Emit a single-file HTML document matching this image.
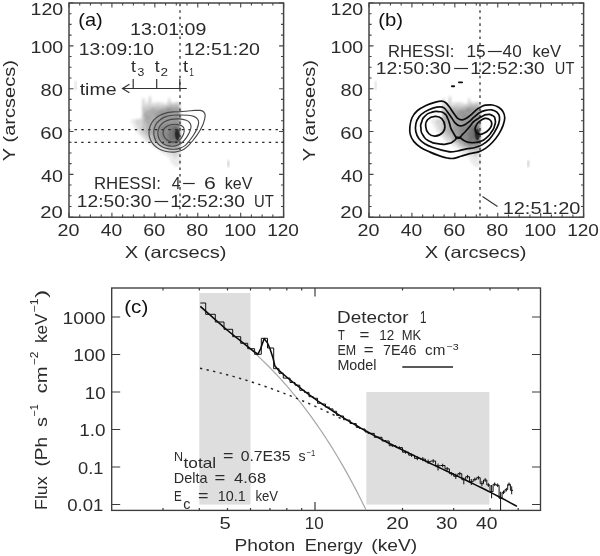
<!DOCTYPE html>
<html><head><meta charset="utf-8"><title>RHESSI figure</title>
<style>html,body{margin:0;padding:0;background:#fff;}svg{display:block;opacity:0.999;}text{font-family:'Liberation Sans', sans-serif;font-kerning:none;}</style>
</head><body>
<svg width="600" height="556" viewBox="0 0 600 556">
<defs>
<filter id="blur0" x="-10%" y="-10%" width="120%" height="120%"><feGaussianBlur stdDeviation="0.8"/></filter>
<filter id="blurc" x="-60%" y="-30%" width="220%" height="160%"><feGaussianBlur stdDeviation="0.7"/></filter>
<filter id="blur1" x="-50%" y="-50%" width="200%" height="200%"><feGaussianBlur stdDeviation="1.2"/></filter>
<filter id="blur2" x="-50%" y="-50%" width="200%" height="200%"><feGaussianBlur stdDeviation="2.4"/></filter>
<clipPath id="clip0"><rect x="69" y="3" width="111.3" height="214"/></clipPath>
<clipPath id="clip300"><rect x="369" y="3" width="111.3" height="214"/></clipPath>
<g id="blob"><g filter="url(#blur0)">
<rect x="148.55" y="95.45" width="2.65" height="2.65" fill="#eaeaea"/>
<rect x="142.10" y="97.60" width="2.65" height="2.65" fill="#eaeaea"/>
<rect x="148.55" y="97.60" width="2.65" height="2.65" fill="#d4d4d4"/>
<rect x="167.90" y="97.60" width="2.65" height="2.65" fill="#e9e9e9"/>
<rect x="142.10" y="99.75" width="2.65" height="2.65" fill="#d5d5d5"/>
<rect x="148.55" y="99.75" width="2.65" height="2.65" fill="#d3d3d3"/>
<rect x="167.90" y="99.75" width="2.65" height="2.65" fill="#dadada"/>
<rect x="142.10" y="101.90" width="2.65" height="2.65" fill="#d7d7d7"/>
<rect x="144.25" y="101.90" width="2.65" height="2.65" fill="#e9e9e9"/>
<rect x="146.40" y="101.90" width="2.65" height="2.65" fill="#eaeaea"/>
<rect x="148.55" y="101.90" width="2.65" height="2.65" fill="#d3d3d3"/>
<rect x="150.70" y="101.90" width="2.65" height="2.65" fill="#ececec"/>
<rect x="152.85" y="101.90" width="2.65" height="2.65" fill="#ebebeb"/>
<rect x="155.00" y="101.90" width="2.65" height="2.65" fill="#ececec"/>
<rect x="157.15" y="101.90" width="2.65" height="2.65" fill="#d6d6d6"/>
<rect x="159.30" y="101.90" width="2.65" height="2.65" fill="#eaeaea"/>
<rect x="161.45" y="101.90" width="2.65" height="2.65" fill="#ececec"/>
<rect x="165.75" y="101.90" width="2.65" height="2.65" fill="#ececec"/>
<rect x="167.90" y="101.90" width="2.65" height="2.65" fill="#d8d8d8"/>
<rect x="170.05" y="101.90" width="2.65" height="2.65" fill="#d3d3d3"/>
<rect x="172.20" y="101.90" width="2.65" height="2.65" fill="#e9e9e9"/>
<rect x="174.35" y="101.90" width="2.65" height="2.65" fill="#d9d9d9"/>
<rect x="176.50" y="101.90" width="2.65" height="2.65" fill="#d4d4d4"/>
<rect x="178.65" y="101.90" width="1.75" height="2.65" fill="#ececec"/>
<rect x="142.10" y="104.05" width="2.65" height="2.65" fill="#d6d6d6"/>
<rect x="144.25" y="104.05" width="2.65" height="2.65" fill="#d9d9d9"/>
<rect x="146.40" y="104.05" width="2.65" height="2.65" fill="#dadada"/>
<rect x="148.55" y="104.05" width="2.65" height="2.65" fill="#d4d4d4"/>
<rect x="150.70" y="104.05" width="2.65" height="2.65" fill="#d9d9d9"/>
<rect x="152.85" y="104.05" width="2.65" height="2.65" fill="#d9d9d9"/>
<rect x="155.00" y="104.05" width="2.65" height="2.65" fill="#d3d3d3"/>
<rect x="157.15" y="104.05" width="2.65" height="2.65" fill="#d4d4d4"/>
<rect x="159.30" y="104.05" width="2.65" height="2.65" fill="#d8d8d8"/>
<rect x="161.45" y="104.05" width="2.65" height="2.65" fill="#d3d3d3"/>
<rect x="163.60" y="104.05" width="2.65" height="2.65" fill="#d6d6d6"/>
<rect x="165.75" y="104.05" width="2.65" height="2.65" fill="#d5d5d5"/>
<rect x="167.90" y="104.05" width="2.65" height="2.65" fill="#c6c6c6"/>
<rect x="170.05" y="104.05" width="2.65" height="2.65" fill="#bdbdbd"/>
<rect x="172.20" y="104.05" width="2.65" height="2.65" fill="#c0c0c0"/>
<rect x="174.35" y="104.05" width="2.65" height="2.65" fill="#bdbdbd"/>
<rect x="176.50" y="104.05" width="2.65" height="2.65" fill="#bebebe"/>
<rect x="178.65" y="104.05" width="1.75" height="2.65" fill="#d8d8d8"/>
<rect x="142.10" y="106.20" width="2.65" height="2.65" fill="#c4c4c4"/>
<rect x="144.25" y="106.20" width="2.65" height="2.65" fill="#d9d9d9"/>
<rect x="146.40" y="106.20" width="2.65" height="2.65" fill="#c7c7c7"/>
<rect x="148.55" y="106.20" width="2.65" height="2.65" fill="#c8c8c8"/>
<rect x="150.70" y="106.20" width="2.65" height="2.65" fill="#c5c5c5"/>
<rect x="152.85" y="106.20" width="2.65" height="2.65" fill="#c1c1c1"/>
<rect x="155.00" y="106.20" width="2.65" height="2.65" fill="#c8c8c8"/>
<rect x="157.15" y="106.20" width="2.65" height="2.65" fill="#c0c0c0"/>
<rect x="159.30" y="106.20" width="2.65" height="2.65" fill="#c4c4c4"/>
<rect x="161.45" y="106.20" width="2.65" height="2.65" fill="#c5c5c5"/>
<rect x="163.60" y="106.20" width="2.65" height="2.65" fill="#bfbfbf"/>
<rect x="165.75" y="106.20" width="2.65" height="2.65" fill="#adadad"/>
<rect x="167.90" y="106.20" width="2.65" height="2.65" fill="#b0b0b0"/>
<rect x="170.05" y="106.20" width="2.65" height="2.65" fill="#adadad"/>
<rect x="172.20" y="106.20" width="2.65" height="2.65" fill="#a9a9a9"/>
<rect x="174.35" y="106.20" width="2.65" height="2.65" fill="#b4b4b4"/>
<rect x="176.50" y="106.20" width="2.65" height="2.65" fill="#a5a5a5"/>
<rect x="178.65" y="106.20" width="1.75" height="2.65" fill="#c8c8c8"/>
<rect x="142.10" y="108.35" width="2.65" height="2.65" fill="#c0c0c0"/>
<rect x="144.25" y="108.35" width="2.65" height="2.65" fill="#bebebe"/>
<rect x="146.40" y="108.35" width="2.65" height="2.65" fill="#c8c8c8"/>
<rect x="148.55" y="108.35" width="2.65" height="2.65" fill="#bfbfbf"/>
<rect x="150.70" y="108.35" width="2.65" height="2.65" fill="#afafaf"/>
<rect x="152.85" y="108.35" width="2.65" height="2.65" fill="#ababab"/>
<rect x="155.00" y="108.35" width="2.65" height="2.65" fill="#b5b5b5"/>
<rect x="157.15" y="108.35" width="2.65" height="2.65" fill="#b4b4b4"/>
<rect x="159.30" y="108.35" width="2.65" height="2.65" fill="#b2b2b2"/>
<rect x="161.45" y="108.35" width="2.65" height="2.65" fill="#a5a5a5"/>
<rect x="163.60" y="108.35" width="2.65" height="2.65" fill="#b1b1b1"/>
<rect x="165.75" y="108.35" width="2.65" height="2.65" fill="#959595"/>
<rect x="167.90" y="108.35" width="2.65" height="2.65" fill="#929292"/>
<rect x="170.05" y="108.35" width="2.65" height="2.65" fill="#929292"/>
<rect x="172.20" y="108.35" width="2.65" height="2.65" fill="#9e9e9e"/>
<rect x="174.35" y="108.35" width="2.65" height="2.65" fill="#9d9d9d"/>
<rect x="176.50" y="108.35" width="2.65" height="2.65" fill="#9a9a9a"/>
<rect x="178.65" y="108.35" width="1.75" height="2.65" fill="#a8a8a8"/>
<rect x="142.10" y="110.50" width="2.65" height="2.65" fill="#c7c7c7"/>
<rect x="144.25" y="110.50" width="2.65" height="2.65" fill="#c0c0c0"/>
<rect x="146.40" y="110.50" width="2.65" height="2.65" fill="#a8a8a8"/>
<rect x="148.55" y="110.50" width="2.65" height="2.65" fill="#a7a7a7"/>
<rect x="150.70" y="110.50" width="2.65" height="2.65" fill="#b4b4b4"/>
<rect x="152.85" y="110.50" width="2.65" height="2.65" fill="#a5a5a5"/>
<rect x="155.00" y="110.50" width="2.65" height="2.65" fill="#b3b3b3"/>
<rect x="157.15" y="110.50" width="2.65" height="2.65" fill="#9e9e9e"/>
<rect x="159.30" y="110.50" width="2.65" height="2.65" fill="#989898"/>
<rect x="161.45" y="110.50" width="2.65" height="2.65" fill="#929292"/>
<rect x="163.60" y="110.50" width="2.65" height="2.65" fill="#9e9e9e"/>
<rect x="165.75" y="110.50" width="2.65" height="2.65" fill="#929292"/>
<rect x="167.90" y="110.50" width="2.65" height="2.65" fill="#9a9a9a"/>
<rect x="170.05" y="110.50" width="2.65" height="2.65" fill="#9e9e9e"/>
<rect x="172.20" y="110.50" width="2.65" height="2.65" fill="#9e9e9e"/>
<rect x="174.35" y="110.50" width="2.65" height="2.65" fill="#a1a1a1"/>
<rect x="176.50" y="110.50" width="2.65" height="2.65" fill="#a3a3a3"/>
<rect x="178.65" y="110.50" width="1.75" height="2.65" fill="#b2b2b2"/>
<rect x="142.10" y="112.65" width="2.65" height="2.65" fill="#c0c0c0"/>
<rect x="144.25" y="112.65" width="2.65" height="2.65" fill="#a4a4a4"/>
<rect x="146.40" y="112.65" width="2.65" height="2.65" fill="#b2b2b2"/>
<rect x="148.55" y="112.65" width="2.65" height="2.65" fill="#b4b4b4"/>
<rect x="150.70" y="112.65" width="2.65" height="2.65" fill="#a5a5a5"/>
<rect x="152.85" y="112.65" width="2.65" height="2.65" fill="#acacac"/>
<rect x="155.00" y="112.65" width="2.65" height="2.65" fill="#9c9c9c"/>
<rect x="157.15" y="112.65" width="2.65" height="2.65" fill="#a0a0a0"/>
<rect x="159.30" y="112.65" width="2.65" height="2.65" fill="#999999"/>
<rect x="161.45" y="112.65" width="2.65" height="2.65" fill="#949494"/>
<rect x="163.60" y="112.65" width="2.65" height="2.65" fill="#9b9b9b"/>
<rect x="165.75" y="112.65" width="2.65" height="2.65" fill="#9c9c9c"/>
<rect x="167.90" y="112.65" width="2.65" height="2.65" fill="#a3a3a3"/>
<rect x="170.05" y="112.65" width="2.65" height="2.65" fill="#929292"/>
<rect x="172.20" y="112.65" width="2.65" height="2.65" fill="#a4a4a4"/>
<rect x="174.35" y="112.65" width="2.65" height="2.65" fill="#9b9b9b"/>
<rect x="176.50" y="112.65" width="2.65" height="2.65" fill="#949494"/>
<rect x="178.65" y="112.65" width="1.75" height="2.65" fill="#a2a2a2"/>
<rect x="142.10" y="114.80" width="2.65" height="2.65" fill="#c0c0c0"/>
<rect x="144.25" y="114.80" width="2.65" height="2.65" fill="#a5a5a5"/>
<rect x="146.40" y="114.80" width="2.65" height="2.65" fill="#aaaaaa"/>
<rect x="148.55" y="114.80" width="2.65" height="2.65" fill="#a8a8a8"/>
<rect x="150.70" y="114.80" width="2.65" height="2.65" fill="#b3b3b3"/>
<rect x="152.85" y="114.80" width="2.65" height="2.65" fill="#aeaeae"/>
<rect x="155.00" y="114.80" width="2.65" height="2.65" fill="#a2a2a2"/>
<rect x="157.15" y="114.80" width="2.65" height="2.65" fill="#949494"/>
<rect x="159.30" y="114.80" width="2.65" height="2.65" fill="#9f9f9f"/>
<rect x="161.45" y="114.80" width="2.65" height="2.65" fill="#9b9b9b"/>
<rect x="163.60" y="114.80" width="2.65" height="2.65" fill="#919191"/>
<rect x="165.75" y="114.80" width="2.65" height="2.65" fill="#939393"/>
<rect x="167.90" y="114.80" width="2.65" height="2.65" fill="#919191"/>
<rect x="170.05" y="114.80" width="2.65" height="2.65" fill="#9b9b9b"/>
<rect x="172.20" y="114.80" width="2.65" height="2.65" fill="#9b9b9b"/>
<rect x="174.35" y="114.80" width="2.65" height="2.65" fill="#969696"/>
<rect x="176.50" y="114.80" width="2.65" height="2.65" fill="#9b9b9b"/>
<rect x="178.65" y="114.80" width="1.75" height="2.65" fill="#9f9f9f"/>
<rect x="139.95" y="116.95" width="2.65" height="2.65" fill="#ebebeb"/>
<rect x="142.10" y="116.95" width="2.65" height="2.65" fill="#c7c7c7"/>
<rect x="144.25" y="116.95" width="2.65" height="2.65" fill="#afafaf"/>
<rect x="146.40" y="116.95" width="2.65" height="2.65" fill="#a4a4a4"/>
<rect x="148.55" y="116.95" width="2.65" height="2.65" fill="#a5a5a5"/>
<rect x="150.70" y="116.95" width="2.65" height="2.65" fill="#aaaaaa"/>
<rect x="152.85" y="116.95" width="2.65" height="2.65" fill="#adadad"/>
<rect x="155.00" y="116.95" width="2.65" height="2.65" fill="#9e9e9e"/>
<rect x="157.15" y="116.95" width="2.65" height="2.65" fill="#a3a3a3"/>
<rect x="159.30" y="116.95" width="2.65" height="2.65" fill="#9f9f9f"/>
<rect x="161.45" y="116.95" width="2.65" height="2.65" fill="#959595"/>
<rect x="163.60" y="116.95" width="2.65" height="2.65" fill="#939393"/>
<rect x="165.75" y="116.95" width="2.65" height="2.65" fill="#9d9d9d"/>
<rect x="167.90" y="116.95" width="2.65" height="2.65" fill="#959595"/>
<rect x="170.05" y="116.95" width="2.65" height="2.65" fill="#959595"/>
<rect x="172.20" y="116.95" width="2.65" height="2.65" fill="#979797"/>
<rect x="174.35" y="116.95" width="2.65" height="2.65" fill="#979797"/>
<rect x="176.50" y="116.95" width="2.65" height="2.65" fill="#959595"/>
<rect x="178.65" y="116.95" width="1.75" height="2.65" fill="#9d9d9d"/>
<rect x="131.35" y="119.10" width="2.65" height="2.65" fill="#eaeaea"/>
<rect x="133.50" y="119.10" width="2.65" height="2.65" fill="#ebebeb"/>
<rect x="135.65" y="119.10" width="2.65" height="2.65" fill="#d7d7d7"/>
<rect x="137.80" y="119.10" width="2.65" height="2.65" fill="#d4d4d4"/>
<rect x="139.95" y="119.10" width="2.65" height="2.65" fill="#d5d5d5"/>
<rect x="142.10" y="119.10" width="2.65" height="2.65" fill="#c5c5c5"/>
<rect x="144.25" y="119.10" width="2.65" height="2.65" fill="#a5a5a5"/>
<rect x="146.40" y="119.10" width="2.65" height="2.65" fill="#aaaaaa"/>
<rect x="148.55" y="119.10" width="2.65" height="2.65" fill="#ababab"/>
<rect x="150.70" y="119.10" width="2.65" height="2.65" fill="#b5b5b5"/>
<rect x="152.85" y="119.10" width="2.65" height="2.65" fill="#acacac"/>
<rect x="155.00" y="119.10" width="2.65" height="2.65" fill="#9f9f9f"/>
<rect x="157.15" y="119.10" width="2.65" height="2.65" fill="#979797"/>
<rect x="159.30" y="119.10" width="2.65" height="2.65" fill="#9b9b9b"/>
<rect x="161.45" y="119.10" width="2.65" height="2.65" fill="#949494"/>
<rect x="163.60" y="119.10" width="2.65" height="2.65" fill="#989898"/>
<rect x="165.75" y="119.10" width="2.65" height="2.65" fill="#959595"/>
<rect x="167.90" y="119.10" width="2.65" height="2.65" fill="#9e9e9e"/>
<rect x="170.05" y="119.10" width="2.65" height="2.65" fill="#989898"/>
<rect x="172.20" y="119.10" width="2.65" height="2.65" fill="#969696"/>
<rect x="174.35" y="119.10" width="2.65" height="2.65" fill="#949494"/>
<rect x="176.50" y="119.10" width="2.65" height="2.65" fill="#9d9d9d"/>
<rect x="178.65" y="119.10" width="1.75" height="2.65" fill="#949494"/>
<rect x="131.35" y="121.25" width="2.65" height="2.65" fill="#e9e9e9"/>
<rect x="133.50" y="121.25" width="2.65" height="2.65" fill="#eaeaea"/>
<rect x="135.65" y="121.25" width="2.65" height="2.65" fill="#d3d3d3"/>
<rect x="137.80" y="121.25" width="2.65" height="2.65" fill="#d3d3d3"/>
<rect x="139.95" y="121.25" width="2.65" height="2.65" fill="#d6d6d6"/>
<rect x="142.10" y="121.25" width="2.65" height="2.65" fill="#c2c2c2"/>
<rect x="144.25" y="121.25" width="2.65" height="2.65" fill="#b2b2b2"/>
<rect x="146.40" y="121.25" width="2.65" height="2.65" fill="#a7a7a7"/>
<rect x="148.55" y="121.25" width="2.65" height="2.65" fill="#a5a5a5"/>
<rect x="150.70" y="121.25" width="2.65" height="2.65" fill="#adadad"/>
<rect x="152.85" y="121.25" width="2.65" height="2.65" fill="#979797"/>
<rect x="155.00" y="121.25" width="2.65" height="2.65" fill="#969696"/>
<rect x="157.15" y="121.25" width="2.65" height="2.65" fill="#969696"/>
<rect x="159.30" y="121.25" width="2.65" height="2.65" fill="#a1a1a1"/>
<rect x="161.45" y="121.25" width="2.65" height="2.65" fill="#959595"/>
<rect x="163.60" y="121.25" width="2.65" height="2.65" fill="#999999"/>
<rect x="165.75" y="121.25" width="2.65" height="2.65" fill="#979797"/>
<rect x="167.90" y="121.25" width="2.65" height="2.65" fill="#9c9c9c"/>
<rect x="170.05" y="121.25" width="2.65" height="2.65" fill="#989898"/>
<rect x="172.20" y="121.25" width="2.65" height="2.65" fill="#959595"/>
<rect x="174.35" y="121.25" width="2.65" height="2.65" fill="#989898"/>
<rect x="176.50" y="121.25" width="2.65" height="2.65" fill="#969696"/>
<rect x="178.65" y="121.25" width="1.75" height="2.65" fill="#a4a4a4"/>
<rect x="133.50" y="123.40" width="2.65" height="2.65" fill="#ececec"/>
<rect x="135.65" y="123.40" width="2.65" height="2.65" fill="#d7d7d7"/>
<rect x="137.80" y="123.40" width="2.65" height="2.65" fill="#d5d5d5"/>
<rect x="139.95" y="123.40" width="2.65" height="2.65" fill="#d9d9d9"/>
<rect x="142.10" y="123.40" width="2.65" height="2.65" fill="#c0c0c0"/>
<rect x="144.25" y="123.40" width="2.65" height="2.65" fill="#c1c1c1"/>
<rect x="146.40" y="123.40" width="2.65" height="2.65" fill="#b4b4b4"/>
<rect x="148.55" y="123.40" width="2.65" height="2.65" fill="#adadad"/>
<rect x="150.70" y="123.40" width="2.65" height="2.65" fill="#b1b1b1"/>
<rect x="152.85" y="123.40" width="2.65" height="2.65" fill="#a3a3a3"/>
<rect x="155.00" y="123.40" width="2.65" height="2.65" fill="#a2a2a2"/>
<rect x="157.15" y="123.40" width="2.65" height="2.65" fill="#9e9e9e"/>
<rect x="159.30" y="123.40" width="2.65" height="2.65" fill="#a1a1a1"/>
<rect x="161.45" y="123.40" width="2.65" height="2.65" fill="#a1a1a1"/>
<rect x="163.60" y="123.40" width="2.65" height="2.65" fill="#939393"/>
<rect x="165.75" y="123.40" width="2.65" height="2.65" fill="#898989"/>
<rect x="167.90" y="123.40" width="2.65" height="2.65" fill="#8b8b8b"/>
<rect x="170.05" y="123.40" width="2.65" height="2.65" fill="#868686"/>
<rect x="172.20" y="123.40" width="2.65" height="2.65" fill="#868686"/>
<rect x="174.35" y="123.40" width="2.65" height="2.65" fill="#8f8f8f"/>
<rect x="176.50" y="123.40" width="2.65" height="2.65" fill="#7f7f7f"/>
<rect x="178.65" y="123.40" width="1.75" height="2.65" fill="#a4a4a4"/>
<rect x="133.50" y="125.55" width="2.65" height="2.65" fill="#ebebeb"/>
<rect x="135.65" y="125.55" width="2.65" height="2.65" fill="#ebebeb"/>
<rect x="137.80" y="125.55" width="2.65" height="2.65" fill="#d7d7d7"/>
<rect x="139.95" y="125.55" width="2.65" height="2.65" fill="#dadada"/>
<rect x="142.10" y="125.55" width="2.65" height="2.65" fill="#bfbfbf"/>
<rect x="144.25" y="125.55" width="2.65" height="2.65" fill="#c4c4c4"/>
<rect x="146.40" y="125.55" width="2.65" height="2.65" fill="#b4b4b4"/>
<rect x="148.55" y="125.55" width="2.65" height="2.65" fill="#ababab"/>
<rect x="150.70" y="125.55" width="2.65" height="2.65" fill="#b3b3b3"/>
<rect x="152.85" y="125.55" width="2.65" height="2.65" fill="#9a9a9a"/>
<rect x="155.00" y="125.55" width="2.65" height="2.65" fill="#9e9e9e"/>
<rect x="157.15" y="125.55" width="2.65" height="2.65" fill="#999999"/>
<rect x="159.30" y="125.55" width="2.65" height="2.65" fill="#919191"/>
<rect x="161.45" y="125.55" width="2.65" height="2.65" fill="#818181"/>
<rect x="163.60" y="125.55" width="2.65" height="2.65" fill="#8a8a8a"/>
<rect x="165.75" y="125.55" width="2.65" height="2.65" fill="#818181"/>
<rect x="167.90" y="125.55" width="2.65" height="2.65" fill="#858585"/>
<rect x="170.05" y="125.55" width="2.65" height="2.65" fill="#8c8c8c"/>
<rect x="172.20" y="125.55" width="2.65" height="2.65" fill="#7d7d7d"/>
<rect x="174.35" y="125.55" width="2.65" height="2.65" fill="#707070"/>
<rect x="176.50" y="125.55" width="2.65" height="2.65" fill="#878787"/>
<rect x="178.65" y="125.55" width="1.75" height="2.65" fill="#7e7e7e"/>
<rect x="135.65" y="127.70" width="2.65" height="2.65" fill="#e9e9e9"/>
<rect x="137.80" y="127.70" width="2.65" height="2.65" fill="#d6d6d6"/>
<rect x="139.95" y="127.70" width="2.65" height="2.65" fill="#d8d8d8"/>
<rect x="142.10" y="127.70" width="2.65" height="2.65" fill="#bebebe"/>
<rect x="144.25" y="127.70" width="2.65" height="2.65" fill="#c8c8c8"/>
<rect x="146.40" y="127.70" width="2.65" height="2.65" fill="#b3b3b3"/>
<rect x="148.55" y="127.70" width="2.65" height="2.65" fill="#ababab"/>
<rect x="150.70" y="127.70" width="2.65" height="2.65" fill="#ababab"/>
<rect x="152.85" y="127.70" width="2.65" height="2.65" fill="#a2a2a2"/>
<rect x="155.00" y="127.70" width="2.65" height="2.65" fill="#989898"/>
<rect x="157.15" y="127.70" width="2.65" height="2.65" fill="#939393"/>
<rect x="159.30" y="127.70" width="2.65" height="2.65" fill="#8b8b8b"/>
<rect x="161.45" y="127.70" width="2.65" height="2.65" fill="#8a8a8a"/>
<rect x="163.60" y="127.70" width="2.65" height="2.65" fill="#8f8f8f"/>
<rect x="165.75" y="127.70" width="2.65" height="2.65" fill="#8d8d8d"/>
<rect x="167.90" y="127.70" width="2.65" height="2.65" fill="#7d7d7d"/>
<rect x="170.05" y="127.70" width="2.65" height="2.65" fill="#767676"/>
<rect x="172.20" y="127.70" width="2.65" height="2.65" fill="#666666"/>
<rect x="174.35" y="127.70" width="2.65" height="2.65" fill="#676767"/>
<rect x="176.50" y="127.70" width="2.65" height="2.65" fill="#707070"/>
<rect x="178.65" y="127.70" width="1.75" height="2.65" fill="#8e8e8e"/>
<rect x="135.65" y="129.85" width="2.65" height="2.65" fill="#e9e9e9"/>
<rect x="137.80" y="129.85" width="2.65" height="2.65" fill="#ebebeb"/>
<rect x="139.95" y="129.85" width="2.65" height="2.65" fill="#d7d7d7"/>
<rect x="142.10" y="129.85" width="2.65" height="2.65" fill="#c5c5c5"/>
<rect x="144.25" y="129.85" width="2.65" height="2.65" fill="#bdbdbd"/>
<rect x="146.40" y="129.85" width="2.65" height="2.65" fill="#adadad"/>
<rect x="148.55" y="129.85" width="2.65" height="2.65" fill="#b0b0b0"/>
<rect x="150.70" y="129.85" width="2.65" height="2.65" fill="#adadad"/>
<rect x="152.85" y="129.85" width="2.65" height="2.65" fill="#a2a2a2"/>
<rect x="155.00" y="129.85" width="2.65" height="2.65" fill="#989898"/>
<rect x="157.15" y="129.85" width="2.65" height="2.65" fill="#9c9c9c"/>
<rect x="159.30" y="129.85" width="2.65" height="2.65" fill="#8d8d8d"/>
<rect x="161.45" y="129.85" width="2.65" height="2.65" fill="#828282"/>
<rect x="163.60" y="129.85" width="2.65" height="2.65" fill="#818181"/>
<rect x="165.75" y="129.85" width="2.65" height="2.65" fill="#949494"/>
<rect x="167.90" y="129.85" width="2.65" height="2.65" fill="#888888"/>
<rect x="170.05" y="129.85" width="2.65" height="2.65" fill="#797979"/>
<rect x="172.20" y="129.85" width="2.65" height="2.65" fill="#666666"/>
<rect x="174.35" y="129.85" width="2.65" height="2.65" fill="#6b6b6b"/>
<rect x="176.50" y="129.85" width="2.65" height="2.65" fill="#525252"/>
<rect x="178.65" y="129.85" width="1.75" height="2.65" fill="#797979"/>
<rect x="137.80" y="132.00" width="2.65" height="2.65" fill="#ececec"/>
<rect x="139.95" y="132.00" width="2.65" height="2.65" fill="#d3d3d3"/>
<rect x="142.10" y="132.00" width="2.65" height="2.65" fill="#d8d8d8"/>
<rect x="144.25" y="132.00" width="2.65" height="2.65" fill="#c1c1c1"/>
<rect x="146.40" y="132.00" width="2.65" height="2.65" fill="#c3c3c3"/>
<rect x="148.55" y="132.00" width="2.65" height="2.65" fill="#aaaaaa"/>
<rect x="150.70" y="132.00" width="2.65" height="2.65" fill="#ababab"/>
<rect x="152.85" y="132.00" width="2.65" height="2.65" fill="#969696"/>
<rect x="155.00" y="132.00" width="2.65" height="2.65" fill="#a2a2a2"/>
<rect x="157.15" y="132.00" width="2.65" height="2.65" fill="#959595"/>
<rect x="159.30" y="132.00" width="2.65" height="2.65" fill="#8d8d8d"/>
<rect x="161.45" y="132.00" width="2.65" height="2.65" fill="#888888"/>
<rect x="163.60" y="132.00" width="2.65" height="2.65" fill="#8c8c8c"/>
<rect x="165.75" y="132.00" width="2.65" height="2.65" fill="#8d8d8d"/>
<rect x="167.90" y="132.00" width="2.65" height="2.65" fill="#727272"/>
<rect x="170.05" y="132.00" width="2.65" height="2.65" fill="#737373"/>
<rect x="172.20" y="132.00" width="2.65" height="2.65" fill="#767676"/>
<rect x="174.35" y="132.00" width="2.65" height="2.65" fill="#404040"/>
<rect x="176.50" y="132.00" width="2.65" height="2.65" fill="#161616"/>
<rect x="178.65" y="132.00" width="1.75" height="2.65" fill="#7f7f7f"/>
<rect x="139.95" y="134.15" width="2.65" height="2.65" fill="#ebebeb"/>
<rect x="142.10" y="134.15" width="2.65" height="2.65" fill="#d7d7d7"/>
<rect x="144.25" y="134.15" width="2.65" height="2.65" fill="#d3d3d3"/>
<rect x="146.40" y="134.15" width="2.65" height="2.65" fill="#bebebe"/>
<rect x="148.55" y="134.15" width="2.65" height="2.65" fill="#c2c2c2"/>
<rect x="150.70" y="134.15" width="2.65" height="2.65" fill="#b4b4b4"/>
<rect x="152.85" y="134.15" width="2.65" height="2.65" fill="#a8a8a8"/>
<rect x="155.00" y="134.15" width="2.65" height="2.65" fill="#9c9c9c"/>
<rect x="157.15" y="134.15" width="2.65" height="2.65" fill="#999999"/>
<rect x="159.30" y="134.15" width="2.65" height="2.65" fill="#848484"/>
<rect x="161.45" y="134.15" width="2.65" height="2.65" fill="#858585"/>
<rect x="163.60" y="134.15" width="2.65" height="2.65" fill="#898989"/>
<rect x="165.75" y="134.15" width="2.65" height="2.65" fill="#7f7f7f"/>
<rect x="167.90" y="134.15" width="2.65" height="2.65" fill="#767676"/>
<rect x="170.05" y="134.15" width="2.65" height="2.65" fill="#767676"/>
<rect x="172.20" y="134.15" width="2.65" height="2.65" fill="#696969"/>
<rect x="174.35" y="134.15" width="2.65" height="2.65" fill="#545454"/>
<rect x="176.50" y="134.15" width="2.65" height="2.65" fill="#242424"/>
<rect x="178.65" y="134.15" width="1.75" height="2.65" fill="#696969"/>
<rect x="142.10" y="136.30" width="2.65" height="2.65" fill="#ececec"/>
<rect x="144.25" y="136.30" width="2.65" height="2.65" fill="#d4d4d4"/>
<rect x="146.40" y="136.30" width="2.65" height="2.65" fill="#d5d5d5"/>
<rect x="148.55" y="136.30" width="2.65" height="2.65" fill="#c3c3c3"/>
<rect x="150.70" y="136.30" width="2.65" height="2.65" fill="#c5c5c5"/>
<rect x="152.85" y="136.30" width="2.65" height="2.65" fill="#a8a8a8"/>
<rect x="155.00" y="136.30" width="2.65" height="2.65" fill="#929292"/>
<rect x="157.15" y="136.30" width="2.65" height="2.65" fill="#a2a2a2"/>
<rect x="159.30" y="136.30" width="2.65" height="2.65" fill="#898989"/>
<rect x="161.45" y="136.30" width="2.65" height="2.65" fill="#878787"/>
<rect x="163.60" y="136.30" width="2.65" height="2.65" fill="#898989"/>
<rect x="165.75" y="136.30" width="2.65" height="2.65" fill="#8c8c8c"/>
<rect x="167.90" y="136.30" width="2.65" height="2.65" fill="#7c7c7c"/>
<rect x="170.05" y="136.30" width="2.65" height="2.65" fill="#707070"/>
<rect x="172.20" y="136.30" width="2.65" height="2.65" fill="#6a6a6a"/>
<rect x="174.35" y="136.30" width="2.65" height="2.65" fill="#585858"/>
<rect x="176.50" y="136.30" width="2.65" height="2.65" fill="#272727"/>
<rect x="178.65" y="136.30" width="1.75" height="2.65" fill="#6a6a6a"/>
<rect x="144.25" y="138.45" width="2.65" height="2.65" fill="#e9e9e9"/>
<rect x="146.40" y="138.45" width="2.65" height="2.65" fill="#d5d5d5"/>
<rect x="148.55" y="138.45" width="2.65" height="2.65" fill="#dadada"/>
<rect x="150.70" y="138.45" width="2.65" height="2.65" fill="#c0c0c0"/>
<rect x="152.85" y="138.45" width="2.65" height="2.65" fill="#a5a5a5"/>
<rect x="155.00" y="138.45" width="2.65" height="2.65" fill="#a4a4a4"/>
<rect x="157.15" y="138.45" width="2.65" height="2.65" fill="#969696"/>
<rect x="159.30" y="138.45" width="2.65" height="2.65" fill="#a4a4a4"/>
<rect x="161.45" y="138.45" width="2.65" height="2.65" fill="#808080"/>
<rect x="163.60" y="138.45" width="2.65" height="2.65" fill="#8f8f8f"/>
<rect x="165.75" y="138.45" width="2.65" height="2.65" fill="#858585"/>
<rect x="167.90" y="138.45" width="2.65" height="2.65" fill="#7e7e7e"/>
<rect x="170.05" y="138.45" width="2.65" height="2.65" fill="#6d6d6d"/>
<rect x="172.20" y="138.45" width="2.65" height="2.65" fill="#7d7d7d"/>
<rect x="174.35" y="138.45" width="2.65" height="2.65" fill="#787878"/>
<rect x="176.50" y="138.45" width="2.65" height="2.65" fill="#393939"/>
<rect x="178.65" y="138.45" width="1.75" height="2.65" fill="#7c7c7c"/>
<rect x="146.40" y="140.60" width="2.65" height="2.65" fill="#eaeaea"/>
<rect x="148.55" y="140.60" width="2.65" height="2.65" fill="#ebebeb"/>
<rect x="150.70" y="140.60" width="2.65" height="2.65" fill="#d9d9d9"/>
<rect x="152.85" y="140.60" width="2.65" height="2.65" fill="#c1c1c1"/>
<rect x="155.00" y="140.60" width="2.65" height="2.65" fill="#c8c8c8"/>
<rect x="157.15" y="140.60" width="2.65" height="2.65" fill="#b3b3b3"/>
<rect x="159.30" y="140.60" width="2.65" height="2.65" fill="#9d9d9d"/>
<rect x="161.45" y="140.60" width="2.65" height="2.65" fill="#a3a3a3"/>
<rect x="163.60" y="140.60" width="2.65" height="2.65" fill="#939393"/>
<rect x="165.75" y="140.60" width="2.65" height="2.65" fill="#878787"/>
<rect x="167.90" y="140.60" width="2.65" height="2.65" fill="#838383"/>
<rect x="170.05" y="140.60" width="2.65" height="2.65" fill="#808080"/>
<rect x="172.20" y="140.60" width="2.65" height="2.65" fill="#7d7d7d"/>
<rect x="174.35" y="140.60" width="2.65" height="2.65" fill="#747474"/>
<rect x="176.50" y="140.60" width="2.65" height="2.65" fill="#787878"/>
<rect x="178.65" y="140.60" width="1.75" height="2.65" fill="#868686"/>
<rect x="150.70" y="142.75" width="2.65" height="2.65" fill="#ebebeb"/>
<rect x="152.85" y="142.75" width="2.65" height="2.65" fill="#e9e9e9"/>
<rect x="155.00" y="142.75" width="2.65" height="2.65" fill="#d8d8d8"/>
<rect x="157.15" y="142.75" width="2.65" height="2.65" fill="#c8c8c8"/>
<rect x="159.30" y="142.75" width="2.65" height="2.65" fill="#c0c0c0"/>
<rect x="161.45" y="142.75" width="2.65" height="2.65" fill="#b2b2b2"/>
<rect x="163.60" y="142.75" width="2.65" height="2.65" fill="#989898"/>
<rect x="165.75" y="142.75" width="2.65" height="2.65" fill="#9a9a9a"/>
<rect x="167.90" y="142.75" width="2.65" height="2.65" fill="#7f7f7f"/>
<rect x="170.05" y="142.75" width="2.65" height="2.65" fill="#878787"/>
<rect x="172.20" y="142.75" width="2.65" height="2.65" fill="#868686"/>
<rect x="174.35" y="142.75" width="2.65" height="2.65" fill="#8e8e8e"/>
<rect x="176.50" y="142.75" width="2.65" height="2.65" fill="#878787"/>
<rect x="178.65" y="142.75" width="1.75" height="2.65" fill="#9f9f9f"/>
<rect x="152.85" y="144.90" width="2.65" height="2.65" fill="#e9e9e9"/>
<rect x="155.00" y="144.90" width="2.65" height="2.65" fill="#eaeaea"/>
<rect x="157.15" y="144.90" width="2.65" height="2.65" fill="#d9d9d9"/>
<rect x="159.30" y="144.90" width="2.65" height="2.65" fill="#c6c6c6"/>
<rect x="161.45" y="144.90" width="2.65" height="2.65" fill="#c4c4c4"/>
<rect x="163.60" y="144.90" width="2.65" height="2.65" fill="#a9a9a9"/>
<rect x="165.75" y="144.90" width="2.65" height="2.65" fill="#b2b2b2"/>
<rect x="167.90" y="144.90" width="2.65" height="2.65" fill="#969696"/>
<rect x="170.05" y="144.90" width="2.65" height="2.65" fill="#979797"/>
<rect x="172.20" y="144.90" width="2.65" height="2.65" fill="#a3a3a3"/>
<rect x="174.35" y="144.90" width="2.65" height="2.65" fill="#979797"/>
<rect x="176.50" y="144.90" width="2.65" height="2.65" fill="#a3a3a3"/>
<rect x="178.65" y="144.90" width="1.75" height="2.65" fill="#b3b3b3"/>
<rect x="157.15" y="147.05" width="2.65" height="2.65" fill="#eaeaea"/>
<rect x="159.30" y="147.05" width="2.65" height="2.65" fill="#ececec"/>
<rect x="161.45" y="147.05" width="2.65" height="2.65" fill="#d3d3d3"/>
<rect x="163.60" y="147.05" width="2.65" height="2.65" fill="#d7d7d7"/>
<rect x="165.75" y="147.05" width="2.65" height="2.65" fill="#c5c5c5"/>
<rect x="167.90" y="147.05" width="2.65" height="2.65" fill="#bfbfbf"/>
<rect x="170.05" y="147.05" width="2.65" height="2.65" fill="#b4b4b4"/>
<rect x="172.20" y="147.05" width="2.65" height="2.65" fill="#a9a9a9"/>
<rect x="174.35" y="147.05" width="2.65" height="2.65" fill="#b4b4b4"/>
<rect x="176.50" y="147.05" width="2.65" height="2.65" fill="#b2b2b2"/>
<rect x="178.65" y="147.05" width="1.75" height="2.65" fill="#bdbdbd"/>
<rect x="159.30" y="149.20" width="2.65" height="2.65" fill="#eaeaea"/>
<rect x="161.45" y="149.20" width="2.65" height="2.65" fill="#ececec"/>
<rect x="163.60" y="149.20" width="2.65" height="2.65" fill="#dadada"/>
<rect x="165.75" y="149.20" width="2.65" height="2.65" fill="#d3d3d3"/>
<rect x="167.90" y="149.20" width="2.65" height="2.65" fill="#d5d5d5"/>
<rect x="170.05" y="149.20" width="2.65" height="2.65" fill="#bfbfbf"/>
<rect x="172.20" y="149.20" width="2.65" height="2.65" fill="#c7c7c7"/>
<rect x="174.35" y="149.20" width="2.65" height="2.65" fill="#c1c1c1"/>
<rect x="176.50" y="149.20" width="2.65" height="2.65" fill="#c4c4c4"/>
<rect x="178.65" y="149.20" width="1.75" height="2.65" fill="#d9d9d9"/>
<rect x="161.45" y="151.35" width="2.65" height="2.65" fill="#ebebeb"/>
<rect x="163.60" y="151.35" width="2.65" height="2.65" fill="#eaeaea"/>
<rect x="165.75" y="151.35" width="2.65" height="2.65" fill="#ebebeb"/>
<rect x="167.90" y="151.35" width="2.65" height="2.65" fill="#d7d7d7"/>
<rect x="170.05" y="151.35" width="2.65" height="2.65" fill="#d9d9d9"/>
<rect x="172.20" y="151.35" width="2.65" height="2.65" fill="#d4d4d4"/>
<rect x="174.35" y="151.35" width="2.65" height="2.65" fill="#d5d5d5"/>
<rect x="176.50" y="151.35" width="2.65" height="2.65" fill="#d4d4d4"/>
<rect x="178.65" y="151.35" width="1.75" height="2.65" fill="#d7d7d7"/>
<rect x="165.75" y="153.50" width="2.65" height="2.65" fill="#e9e9e9"/>
<rect x="167.90" y="153.50" width="2.65" height="2.65" fill="#eaeaea"/>
<rect x="170.05" y="153.50" width="2.65" height="2.65" fill="#eaeaea"/>
<rect x="172.20" y="153.50" width="2.65" height="2.65" fill="#d6d6d6"/>
<rect x="174.35" y="153.50" width="2.65" height="2.65" fill="#d5d5d5"/>
<rect x="176.50" y="153.50" width="2.65" height="2.65" fill="#d7d7d7"/>
<rect x="178.65" y="153.50" width="1.75" height="2.65" fill="#ececec"/>
<rect x="167.90" y="155.65" width="2.65" height="2.65" fill="#ececec"/>
<rect x="170.05" y="155.65" width="2.65" height="2.65" fill="#ececec"/>
<rect x="172.20" y="155.65" width="2.65" height="2.65" fill="#ececec"/>
<rect x="174.35" y="155.65" width="2.65" height="2.65" fill="#d3d3d3"/>
<rect x="176.50" y="155.65" width="2.65" height="2.65" fill="#ebebeb"/>
<rect x="178.65" y="155.65" width="1.75" height="2.65" fill="#e9e9e9"/>
<rect x="170.05" y="157.80" width="2.65" height="2.65" fill="#ececec"/>
<rect x="172.20" y="157.80" width="2.65" height="2.65" fill="#ebebeb"/>
<rect x="174.35" y="157.80" width="2.65" height="2.65" fill="#e9e9e9"/>
<rect x="176.50" y="157.80" width="2.65" height="2.65" fill="#eaeaea"/>
<rect x="178.65" y="157.80" width="1.75" height="2.65" fill="#ebebeb"/>
<rect x="170.05" y="159.95" width="2.65" height="2.65" fill="#ebebeb"/>
<rect x="172.20" y="159.95" width="2.65" height="2.65" fill="#ececec"/>
<rect x="174.35" y="159.95" width="2.65" height="2.65" fill="#ececec"/>
<rect x="176.50" y="159.95" width="2.65" height="2.65" fill="#ececec"/>
<rect x="178.65" y="159.95" width="1.75" height="2.65" fill="#ebebeb"/>
<rect x="172.20" y="162.10" width="2.65" height="2.65" fill="#ebebeb"/>
<rect x="174.35" y="162.10" width="2.65" height="2.65" fill="#e9e9e9"/>
<rect x="176.50" y="162.10" width="2.65" height="2.65" fill="#ececec"/>
<rect x="178.65" y="162.10" width="1.75" height="2.65" fill="#ebebeb"/>
<rect x="174.35" y="164.25" width="2.65" height="2.65" fill="#ebebeb"/>
<rect x="176.50" y="164.25" width="2.65" height="2.65" fill="#ececec"/>
</g>
<ellipse cx="177.4" cy="134.3" rx="2.3" ry="5.6" fill="#141414" opacity="0.62" filter="url(#blurc)"/>
</g>
</defs>
<rect x="0" y="0" width="600" height="556" fill="#ffffff"/>
<use href="#blob" x="0" y="0"/>
<rect x="74.8" y="81" width="2" height="9" fill="#dcdcdc" filter="url(#blur0)"/>
<rect x="227.2" y="160.5" width="2" height="6.5" fill="#c8c8c8" filter="url(#blur0)"/>
<rect x="69.0" y="3.0" width="214.6" height="214.2" fill="none" stroke="#454545" stroke-width="1.5"/>
<path d="M69.00,3.0v4.5M69.00,217.2v-4.5M69.0,217.20h4.5M283.6,217.20h-4.5M79.73,3.0v2.6M79.73,217.2v-2.6M69.0,206.49h2.6M283.6,206.49h-2.6M90.46,3.0v2.6M90.46,217.2v-2.6M69.0,195.78h2.6M283.6,195.78h-2.6M101.19,3.0v2.6M101.19,217.2v-2.6M69.0,185.07h2.6M283.6,185.07h-2.6M111.92,3.0v4.5M111.92,217.2v-4.5M69.0,174.36h4.5M283.6,174.36h-4.5M122.65,3.0v2.6M122.65,217.2v-2.6M69.0,163.65h2.6M283.6,163.65h-2.6M133.38,3.0v2.6M133.38,217.2v-2.6M69.0,152.94h2.6M283.6,152.94h-2.6M144.11,3.0v2.6M144.11,217.2v-2.6M69.0,142.23h2.6M283.6,142.23h-2.6M154.84,3.0v4.5M154.84,217.2v-4.5M69.0,131.52h4.5M283.6,131.52h-4.5M165.57,3.0v2.6M165.57,217.2v-2.6M69.0,120.81h2.6M283.6,120.81h-2.6M176.30,3.0v2.6M176.30,217.2v-2.6M69.0,110.10h2.6M283.6,110.10h-2.6M187.03,3.0v2.6M187.03,217.2v-2.6M69.0,99.39h2.6M283.6,99.39h-2.6M197.76,3.0v4.5M197.76,217.2v-4.5M69.0,88.68h4.5M283.6,88.68h-4.5M208.49,3.0v2.6M208.49,217.2v-2.6M69.0,77.97h2.6M283.6,77.97h-2.6M219.22,3.0v2.6M219.22,217.2v-2.6M69.0,67.26h2.6M283.6,67.26h-2.6M229.95,3.0v2.6M229.95,217.2v-2.6M69.0,56.55h2.6M283.6,56.55h-2.6M240.68,3.0v4.5M240.68,217.2v-4.5M69.0,45.84h4.5M283.6,45.84h-4.5M251.41,3.0v2.6M251.41,217.2v-2.6M69.0,35.13h2.6M283.6,35.13h-2.6M262.14,3.0v2.6M262.14,217.2v-2.6M69.0,24.42h2.6M283.6,24.42h-2.6M272.87,3.0v2.6M272.87,217.2v-2.6M69.0,13.71h2.6M283.6,13.71h-2.6M283.60,3.0v4.5M283.60,217.2v-4.5M69.0,3.00h4.5M283.6,3.00h-4.5" stroke="#454545" stroke-width="1.1" fill="none"/>
<text x="57.41" y="236.40" font-size="16.5" textLength="21.96" lengthAdjust="spacingAndGlyphs" fill="#2b2b2b" xml:space="preserve">20</text>
<text x="40.38" y="217.80" font-size="16.5" textLength="22.51" lengthAdjust="spacingAndGlyphs" fill="#2b2b2b" xml:space="preserve">20</text>
<text x="100.88" y="236.40" font-size="16.5" textLength="21.39" lengthAdjust="spacingAndGlyphs" fill="#2b2b2b" xml:space="preserve">40</text>
<text x="40.95" y="181.50" font-size="16.5" textLength="21.92" lengthAdjust="spacingAndGlyphs" fill="#2b2b2b" xml:space="preserve">40</text>
<text x="143.24" y="236.40" font-size="16.5" textLength="21.97" lengthAdjust="spacingAndGlyphs" fill="#2b2b2b" xml:space="preserve">60</text>
<text x="40.37" y="139.10" font-size="16.5" textLength="22.52" lengthAdjust="spacingAndGlyphs" fill="#2b2b2b" xml:space="preserve">60</text>
<text x="186.31" y="236.40" font-size="16.5" textLength="21.82" lengthAdjust="spacingAndGlyphs" fill="#2b2b2b" xml:space="preserve">80</text>
<text x="40.53" y="95.90" font-size="16.5" textLength="22.36" lengthAdjust="spacingAndGlyphs" fill="#2b2b2b" xml:space="preserve">80</text>
<text x="224.23" y="236.40" font-size="16.5" textLength="31.80" lengthAdjust="spacingAndGlyphs" fill="#2b2b2b" xml:space="preserve">100</text>
<text x="30.51" y="52.90" font-size="16.5" textLength="32.66" lengthAdjust="spacingAndGlyphs" fill="#2b2b2b" xml:space="preserve">100</text>
<text x="267.15" y="236.40" font-size="16.5" textLength="31.80" lengthAdjust="spacingAndGlyphs" fill="#2b2b2b" xml:space="preserve">120</text>
<text x="30.51" y="15.10" font-size="16.5" textLength="32.66" lengthAdjust="spacingAndGlyphs" fill="#2b2b2b" xml:space="preserve">120</text>
<text x="124.85" y="257.90" font-size="16.5" textLength="101.70" lengthAdjust="spacingAndGlyphs" fill="#2b2b2b" xml:space="preserve">X (arcsecs)</text>
<g transform="translate(15.30,160.90) rotate(-90)">
<text x="-0.44" y="0" font-size="16.5" textLength="101.18" lengthAdjust="spacingAndGlyphs" fill="#2b2b2b" xml:space="preserve">Y (arcsecs)</text>
</g>
<path d="M180,3V217" stroke="#2a2a2a" stroke-width="1.25" stroke-dasharray="2.6 3.95" stroke-dashoffset="5.9" fill="none"/>
<path d="M69,129.5H284M69,142.4H284" stroke="#2a2a2a" stroke-width="1.25" stroke-dasharray="2.4 4.3" stroke-dashoffset="1.2" fill="none"/>
<path d="M179.67,111.72C182.20,111.55 185.81,111.18 188.34,110.96C190.86,110.74 192.85,110.51 194.84,110.42C196.82,110.33 198.81,110.20 200.25,110.42C201.70,110.63 202.69,110.99 203.50,111.72C204.32,112.44 204.95,113.52 205.13,114.75C205.31,115.98 204.95,117.46 204.59,119.08C204.23,120.71 203.69,122.70 202.96,124.50C202.24,126.31 201.34,128.02 200.25,129.92C199.17,131.81 197.73,134.07 196.46,135.88C195.20,137.68 194.02,139.13 192.67,140.75C191.32,142.38 189.78,144.22 188.34,145.63C186.89,147.04 185.45,148.30 184.00,149.20C182.56,150.11 181.29,150.56 179.67,151.05C178.04,151.53 176.24,152.00 174.25,152.13C172.27,152.26 169.92,152.17 167.75,151.80C165.59,151.44 163.24,150.81 161.25,149.96C159.27,149.11 157.46,148.07 155.83,146.71C154.21,145.36 152.58,143.55 151.50,141.84C150.42,140.12 149.73,138.22 149.33,136.42C148.94,134.61 148.94,132.81 149.12,131.00C149.30,129.20 149.66,127.39 150.42,125.59C151.18,123.78 152.22,121.79 153.67,120.17C155.11,118.54 157.10,117.01 159.08,115.83C161.07,114.66 163.24,113.78 165.59,113.13C167.93,112.48 170.82,112.17 173.17,111.93C175.52,111.70 177.14,111.88 179.67,111.72Z" fill="none" stroke="#484848" stroke-width="1.15"/>
<path d="M179.67,114.97C182.38,114.97 185.99,115.06 188.34,115.29C190.68,115.53 192.22,115.74 193.75,116.38C195.29,117.01 196.73,118.00 197.55,119.08C198.36,120.17 198.72,121.25 198.63,122.88C198.54,124.50 197.82,126.85 197.00,128.84C196.19,130.82 195.02,132.81 193.75,134.79C192.49,136.78 190.86,138.95 189.42,140.75C187.98,142.56 186.71,144.36 185.09,145.63C183.46,146.89 181.66,147.74 179.67,148.34C177.68,148.93 175.34,149.20 173.17,149.20C171.00,149.20 168.65,148.84 166.67,148.34C164.68,147.83 162.97,147.25 161.25,146.17C159.54,145.09 157.55,143.46 156.38,141.84C155.20,140.21 154.62,138.22 154.21,136.42C153.79,134.61 153.70,132.81 153.88,131.00C154.06,129.20 154.43,127.30 155.29,125.59C156.16,123.87 157.55,122.12 159.08,120.71C160.62,119.30 162.33,118.04 164.50,117.13C166.67,116.23 169.56,115.65 172.09,115.29C174.61,114.93 176.96,114.97 179.67,114.97Z" fill="none" stroke="#484848" stroke-width="1.15"/>
<path d="M179.67,118.87C182.20,118.99 184.54,119.59 186.17,120.17C187.80,120.75 188.61,121.34 189.42,122.33C190.23,123.33 190.96,124.68 191.05,126.13C191.14,127.57 190.59,129.29 189.96,131.00C189.33,132.72 188.43,134.61 187.25,136.42C186.08,138.22 184.18,140.54 182.92,141.84C181.66,143.14 181.11,143.50 179.67,144.22C178.22,144.94 176.24,145.94 174.25,146.17C172.27,146.40 169.65,146.08 167.75,145.63C165.86,145.18 164.23,144.45 162.88,143.46C161.52,142.47 160.44,141.11 159.63,139.67C158.81,138.22 158.24,136.33 158.00,134.79C157.77,133.26 157.86,132.00 158.22,130.46C158.58,128.93 159.12,127.03 160.17,125.59C161.22,124.14 162.70,122.82 164.50,121.79C166.31,120.76 168.47,119.90 171.00,119.41C173.53,118.92 177.14,118.74 179.67,118.87Z" fill="none" stroke="#484848" stroke-width="1.15"/>
<path d="M179.67,125.04C180.93,125.44 182.16,125.86 182.92,126.67C183.68,127.48 184.13,128.65 184.22,129.92C184.31,131.18 183.95,132.90 183.46,134.25C182.97,135.61 182.11,137.00 181.29,138.04C180.48,139.09 179.76,139.87 178.59,140.54C177.41,141.20 175.79,141.93 174.25,142.05C172.72,142.18 170.82,141.87 169.38,141.29C167.93,140.72 166.58,139.67 165.59,138.59C164.59,137.50 163.78,136.15 163.42,134.79C163.06,133.44 163.06,131.72 163.42,130.46C163.78,129.20 164.50,128.11 165.59,127.21C166.67,126.31 168.29,125.53 169.92,125.04C171.54,124.56 173.71,124.28 175.34,124.28C176.96,124.28 178.41,124.65 179.67,125.04Z" fill="none" stroke="#484848" stroke-width="1.15"/>
<text x="78.26" y="25.50" font-size="18.5" textLength="24.48" lengthAdjust="spacingAndGlyphs" fill="#111" xml:space="preserve">(a)</text>
<text x="130.00" y="35.00" font-size="16.5" textLength="76.43" lengthAdjust="spacingAndGlyphs" fill="#2b2b2b" xml:space="preserve">13:01:09</text>
<text x="78.83" y="54.60" font-size="16.5" textLength="75.23" lengthAdjust="spacingAndGlyphs" fill="#2b2b2b" xml:space="preserve">13:09:10</text>
<text x="183.71" y="54.60" font-size="16.5" textLength="76.26" lengthAdjust="spacingAndGlyphs" fill="#2b2b2b" xml:space="preserve">12:51:20</text>
<text x="131.03" y="71.70" font-size="16.5" textLength="4.90" lengthAdjust="spacingAndGlyphs" fill="#2b2b2b" xml:space="preserve">t</text>
<text x="137.53" y="76.20" font-size="11.6" textLength="6.80" lengthAdjust="spacingAndGlyphs" fill="#2b2b2b" xml:space="preserve">3</text>
<text x="154.73" y="71.70" font-size="16.5" textLength="4.90" lengthAdjust="spacingAndGlyphs" fill="#2b2b2b" xml:space="preserve">t</text>
<text x="160.62" y="76.20" font-size="11.6" textLength="7.57" lengthAdjust="spacingAndGlyphs" fill="#2b2b2b" xml:space="preserve">2</text>
<text x="183.02" y="71.70" font-size="16.5" textLength="5.11" lengthAdjust="spacingAndGlyphs" fill="#2b2b2b" xml:space="preserve">t</text>
<text x="189.26" y="76.20" font-size="11.6" textLength="4.64" lengthAdjust="spacingAndGlyphs" fill="#2b2b2b" xml:space="preserve">1</text>
<text x="79.70" y="95.20" font-size="16.5" textLength="36.97" lengthAdjust="spacingAndGlyphs" fill="#2b2b2b" xml:space="preserve">time</text>
<path d="M122.5,88.5H186.8M133.2,79V88.5M156.7,79V88.5M179.8,79V88.5" stroke="#333" stroke-width="1.2" fill="none"/>
<path d="M129.4,84.2L122.5,88.5L129.4,92.8" stroke="#333" stroke-width="1.2" fill="none"/>
<text x="93.92" y="189.30" font-size="16.5" textLength="67.11" lengthAdjust="spacingAndGlyphs" fill="#2b2b2b" xml:space="preserve">RHESSI:</text>
<text x="171.64" y="189.30" font-size="16.5" textLength="8.83" lengthAdjust="spacingAndGlyphs" fill="#2b2b2b" xml:space="preserve">4</text>
<text x="181.81" y="189.30" font-size="16.5" textLength="14.06" lengthAdjust="spacingAndGlyphs" fill="#2b2b2b" xml:space="preserve">&#8722;</text>
<text x="203.92" y="189.30" font-size="16.5" textLength="11.81" lengthAdjust="spacingAndGlyphs" fill="#2b2b2b" xml:space="preserve">6</text>
<text x="224.72" y="189.30" font-size="16.5" textLength="27.65" lengthAdjust="spacingAndGlyphs" fill="#2b2b2b" xml:space="preserve">keV</text>
<text x="76.84" y="207.20" font-size="16.5" textLength="74.61" lengthAdjust="spacingAndGlyphs" fill="#2b2b2b" xml:space="preserve">12:50:30</text>
<text x="152.91" y="207.20" font-size="16.5" textLength="16.47" lengthAdjust="spacingAndGlyphs" fill="#2b2b2b" xml:space="preserve">&#8722;</text>
<text x="170.34" y="207.20" font-size="16.5" textLength="74.61" lengthAdjust="spacingAndGlyphs" fill="#2b2b2b" xml:space="preserve">12:52:30</text>
<text x="254.05" y="207.20" font-size="16.5" textLength="19.79" lengthAdjust="spacingAndGlyphs" fill="#2b2b2b" xml:space="preserve">UT</text>
<use href="#blob" x="300" y="0"/>
<rect x="374.8" y="81" width="2" height="9" fill="#dcdcdc" filter="url(#blur0)"/>
<rect x="527.2" y="160.5" width="2" height="6.5" fill="#c8c8c8" filter="url(#blur0)"/>
<rect x="369.0" y="3.0" width="214.6" height="214.2" fill="none" stroke="#454545" stroke-width="1.5"/>
<path d="M369.00,3.0v4.5M369.00,217.2v-4.5M369.0,217.20h4.5M583.6,217.20h-4.5M379.73,3.0v2.6M379.73,217.2v-2.6M369.0,206.49h2.6M583.6,206.49h-2.6M390.46,3.0v2.6M390.46,217.2v-2.6M369.0,195.78h2.6M583.6,195.78h-2.6M401.19,3.0v2.6M401.19,217.2v-2.6M369.0,185.07h2.6M583.6,185.07h-2.6M411.92,3.0v4.5M411.92,217.2v-4.5M369.0,174.36h4.5M583.6,174.36h-4.5M422.65,3.0v2.6M422.65,217.2v-2.6M369.0,163.65h2.6M583.6,163.65h-2.6M433.38,3.0v2.6M433.38,217.2v-2.6M369.0,152.94h2.6M583.6,152.94h-2.6M444.11,3.0v2.6M444.11,217.2v-2.6M369.0,142.23h2.6M583.6,142.23h-2.6M454.84,3.0v4.5M454.84,217.2v-4.5M369.0,131.52h4.5M583.6,131.52h-4.5M465.57,3.0v2.6M465.57,217.2v-2.6M369.0,120.81h2.6M583.6,120.81h-2.6M476.30,3.0v2.6M476.30,217.2v-2.6M369.0,110.10h2.6M583.6,110.10h-2.6M487.03,3.0v2.6M487.03,217.2v-2.6M369.0,99.39h2.6M583.6,99.39h-2.6M497.76,3.0v4.5M497.76,217.2v-4.5M369.0,88.68h4.5M583.6,88.68h-4.5M508.49,3.0v2.6M508.49,217.2v-2.6M369.0,77.97h2.6M583.6,77.97h-2.6M519.22,3.0v2.6M519.22,217.2v-2.6M369.0,67.26h2.6M583.6,67.26h-2.6M529.95,3.0v2.6M529.95,217.2v-2.6M369.0,56.55h2.6M583.6,56.55h-2.6M540.68,3.0v4.5M540.68,217.2v-4.5M369.0,45.84h4.5M583.6,45.84h-4.5M551.41,3.0v2.6M551.41,217.2v-2.6M369.0,35.13h2.6M583.6,35.13h-2.6M562.14,3.0v2.6M562.14,217.2v-2.6M369.0,24.42h2.6M583.6,24.42h-2.6M572.87,3.0v2.6M572.87,217.2v-2.6M369.0,13.71h2.6M583.6,13.71h-2.6M583.60,3.0v4.5M583.60,217.2v-4.5M369.0,3.00h4.5M583.6,3.00h-4.5" stroke="#454545" stroke-width="1.1" fill="none"/>
<text x="357.41" y="236.40" font-size="16.5" textLength="21.96" lengthAdjust="spacingAndGlyphs" fill="#2b2b2b" xml:space="preserve">20</text>
<text x="340.38" y="217.80" font-size="16.5" textLength="22.51" lengthAdjust="spacingAndGlyphs" fill="#2b2b2b" xml:space="preserve">20</text>
<text x="400.88" y="236.40" font-size="16.5" textLength="21.39" lengthAdjust="spacingAndGlyphs" fill="#2b2b2b" xml:space="preserve">40</text>
<text x="340.95" y="181.50" font-size="16.5" textLength="21.92" lengthAdjust="spacingAndGlyphs" fill="#2b2b2b" xml:space="preserve">40</text>
<text x="443.24" y="236.40" font-size="16.5" textLength="21.97" lengthAdjust="spacingAndGlyphs" fill="#2b2b2b" xml:space="preserve">60</text>
<text x="340.37" y="139.10" font-size="16.5" textLength="22.52" lengthAdjust="spacingAndGlyphs" fill="#2b2b2b" xml:space="preserve">60</text>
<text x="486.31" y="236.40" font-size="16.5" textLength="21.82" lengthAdjust="spacingAndGlyphs" fill="#2b2b2b" xml:space="preserve">80</text>
<text x="340.53" y="95.90" font-size="16.5" textLength="22.36" lengthAdjust="spacingAndGlyphs" fill="#2b2b2b" xml:space="preserve">80</text>
<text x="524.23" y="236.40" font-size="16.5" textLength="31.80" lengthAdjust="spacingAndGlyphs" fill="#2b2b2b" xml:space="preserve">100</text>
<text x="330.51" y="52.90" font-size="16.5" textLength="32.66" lengthAdjust="spacingAndGlyphs" fill="#2b2b2b" xml:space="preserve">100</text>
<text x="567.15" y="236.40" font-size="16.5" textLength="31.80" lengthAdjust="spacingAndGlyphs" fill="#2b2b2b" xml:space="preserve">120</text>
<text x="330.51" y="15.10" font-size="16.5" textLength="32.66" lengthAdjust="spacingAndGlyphs" fill="#2b2b2b" xml:space="preserve">120</text>
<text x="424.85" y="257.90" font-size="16.5" textLength="101.70" lengthAdjust="spacingAndGlyphs" fill="#2b2b2b" xml:space="preserve">X (arcsecs)</text>
<g transform="translate(315.30,160.90) rotate(-90)">
<text x="-0.44" y="0" font-size="16.5" textLength="101.18" lengthAdjust="spacingAndGlyphs" fill="#2b2b2b" xml:space="preserve">Y (arcsecs)</text>
</g>
<path d="M480,3V217" stroke="#2a2a2a" stroke-width="1.25" stroke-dasharray="2.6 3.95" stroke-dashoffset="5.9" fill="none"/>
<path d="M441.75,101.13C439.97,101.10 437.38,101.62 434.75,102.35C432.13,103.08 428.92,104.10 426.00,105.50C423.08,106.90 419.58,108.71 417.25,110.75C414.92,112.79 413.23,115.13 412.00,117.75C410.78,120.38 410.19,123.73 409.90,126.50C409.61,129.27 409.61,131.90 410.25,134.38C410.89,136.86 412.00,139.19 413.75,141.38C415.50,143.56 418.13,145.75 420.75,147.50C423.38,149.25 426.58,150.57 429.50,151.88C432.42,153.19 435.33,154.36 438.25,155.38C441.17,156.40 444.38,157.51 447.00,158.00C449.63,158.50 451.67,158.64 454.00,158.35C456.34,158.06 458.38,157.04 461.00,156.25C463.63,155.47 466.84,154.36 469.75,153.63C472.67,152.90 475.88,152.75 478.50,151.88C481.13,151.00 483.17,149.98 485.50,148.38C487.84,146.77 490.32,144.59 492.50,142.25C494.69,139.92 496.88,137.15 498.63,134.38C500.38,131.61 501.98,128.40 503.00,125.63C504.03,122.86 504.75,120.08 504.75,117.75C504.75,115.42 504.03,113.38 503.00,111.63C501.98,109.88 500.38,108.36 498.63,107.25C496.88,106.14 494.69,105.33 492.50,104.98C490.32,104.63 487.14,104.98 485.50,105.15C483.87,105.33 484.07,105.35 482.70,106.03C481.33,106.70 479.09,107.83 477.28,109.18C475.47,110.52 473.66,112.56 471.85,114.08C470.04,115.59 468.06,117.30 466.43,118.28C464.79,119.25 463.51,119.92 462.05,119.94C460.59,119.95 459.11,119.52 457.68,118.36C456.25,117.21 454.91,114.99 453.48,113.03C452.05,111.06 450.44,108.30 449.10,106.55C447.76,104.80 446.65,103.43 445.43,102.53C444.20,101.62 443.53,101.15 441.75,101.13Z" fill="none" stroke="#0c0c0c" stroke-width="1.7" stroke-linejoin="round"/>
<path d="M440.00,106.90C438.11,106.90 435.48,107.34 433.00,108.13C430.52,108.91 427.46,110.17 425.13,111.63C422.79,113.08 420.55,114.83 419.00,116.88C417.45,118.92 416.38,121.40 415.85,123.88C415.33,126.36 415.33,129.27 415.85,131.75C416.38,134.23 417.45,136.71 419.00,138.75C420.55,140.79 422.79,142.54 425.13,144.00C427.46,145.46 430.23,146.48 433.00,147.50C435.77,148.52 438.84,149.40 441.75,150.13C444.67,150.86 447.88,151.73 450.50,151.88C453.13,152.02 454.88,151.50 457.50,151.00C460.13,150.51 463.34,149.49 466.25,148.90C469.17,148.32 472.38,148.17 475.00,147.50C477.63,146.83 479.67,146.19 482.00,144.88C484.34,143.56 486.96,141.67 489.00,139.63C491.05,137.59 492.65,135.25 494.25,132.63C495.86,130.00 497.75,126.50 498.63,123.88C499.50,121.25 499.80,118.83 499.50,116.88C499.21,114.92 498.19,113.32 496.88,112.15C495.57,110.98 493.53,110.17 491.63,109.88C489.73,109.58 487.55,109.93 485.50,110.40C483.46,110.87 481.30,111.54 479.38,112.68C477.45,113.81 475.76,115.65 473.95,117.23C472.15,118.80 470.25,120.78 468.53,122.13C466.81,123.47 465.14,124.66 463.63,125.28C462.11,125.89 460.86,126.21 459.43,125.80C458.00,125.39 456.39,124.23 455.05,122.83C453.71,121.43 452.57,119.12 451.38,117.40C450.18,115.68 449.04,114.05 447.88,112.50C446.71,110.95 445.69,109.06 444.38,108.13C443.06,107.19 441.90,106.90 440.00,106.90Z" fill="none" stroke="#0c0c0c" stroke-width="1.7" stroke-linejoin="round"/>
<path d="M456.51,137.75C456.07,137.17 456.30,137.73 455.19,136.00C454.09,134.28 454.64,135.23 453.20,132.59C451.75,129.95 452.04,130.98 450.85,128.08C449.66,125.17 450.74,127.20 449.63,123.88C448.52,120.55 449.28,121.54 447.53,118.10C445.78,114.66 447.47,115.71 444.38,113.55C441.29,111.39 442.63,111.98 438.25,111.63C433.88,111.28 435.63,111.04 431.25,112.50C426.88,113.96 428.33,112.79 425.13,116.00C421.92,119.21 423.03,118.04 421.63,122.13C420.23,126.21 420.46,123.88 420.93,128.25C421.39,132.63 420.17,130.94 423.03,135.25C425.88,139.57 424.13,138.34 429.50,141.20C434.87,144.06 433.00,143.01 439.13,143.83C445.25,144.64 442.92,144.64 447.88,143.65C452.84,142.66 451.13,142.82 454.00,140.85C456.88,138.89 455.67,138.79 456.51,137.75" fill="none" stroke="#0c0c0c" stroke-width="1.7" stroke-linejoin="round"/>
<path d="M460.01,137.75C460.67,136.84 460.34,136.93 462.00,135.01C463.66,133.09 462.83,134.33 464.99,132.00C467.16,129.66 466.50,130.33 468.49,128.01C470.49,125.68 469.10,127.27 470.98,125.01C472.86,122.76 470.74,123.96 474.13,121.25C477.51,118.54 476.75,119.09 481.13,116.88C485.50,114.66 483.46,115.01 487.25,114.60C491.05,114.19 489.88,114.02 492.50,115.65C495.13,117.28 494.43,116.18 495.13,119.50C495.83,122.83 495.77,121.54 494.60,125.63C493.44,129.71 494.37,127.67 491.63,131.75C488.89,135.84 490.17,134.67 486.38,137.88C482.59,141.09 484.05,139.84 480.25,141.38C476.46,142.92 478.42,142.12 475.00,142.50C471.58,142.87 473.00,142.83 470.00,142.50C466.99,142.16 468.49,142.50 465.99,141.50C463.49,140.50 464.49,140.75 462.49,139.50C460.50,138.26 460.83,138.34 460.01,137.75" fill="none" stroke="#0c0c0c" stroke-width="1.7" stroke-linejoin="round"/>
<path d="M456.3,137.75H460.2" stroke="#0c0c0c" stroke-width="2.3" stroke-linecap="round"/>
<path d="M425.65,126.15C425.51,123.82 426.18,121.13 427.75,119.50C429.33,117.87 432.77,116.50 435.10,116.35C437.43,116.21 440.12,116.99 441.75,118.63C443.39,120.26 444.76,123.82 444.90,126.15C445.05,128.49 444.26,130.96 442.63,132.63C440.99,134.29 437.43,135.98 435.10,136.13C432.77,136.27 430.20,135.16 428.63,133.50C427.05,131.84 425.80,128.49 425.65,126.15Z" fill="none" stroke="#0c0c0c" stroke-width="1.7" stroke-linejoin="round"/>
<path d="M475.09,129.25C475.09,127.81 475.81,125.82 476.71,124.38C477.61,122.93 479.15,121.58 480.50,120.59C481.86,119.59 483.48,118.69 484.84,118.42C486.19,118.15 487.55,118.42 488.63,118.96C489.71,119.50 490.89,120.49 491.34,121.67C491.79,122.84 491.79,124.65 491.34,126.00C490.89,127.36 489.80,128.62 488.63,129.79C487.46,130.97 485.74,132.27 484.30,133.04C482.85,133.82 481.23,134.45 479.96,134.45C478.70,134.45 477.52,133.91 476.71,133.04C475.90,132.18 475.09,130.70 475.09,129.25Z" fill="none" stroke="#0c0c0c" stroke-width="1.7" stroke-linejoin="round"/>
<path d="M452,86.3h2.1" stroke="#111" stroke-width="2.1" stroke-linecap="round"/>
<path d="M458.8,82.3h3.4" stroke="#111" stroke-width="1.7" stroke-linecap="round"/>
<text x="378.24" y="25.50" font-size="18.5" textLength="24.82" lengthAdjust="spacingAndGlyphs" fill="#111" xml:space="preserve">(b)</text>
<text x="387.94" y="56.50" font-size="16.5" textLength="66.48" lengthAdjust="spacingAndGlyphs" fill="#2b2b2b" xml:space="preserve">RHESSI:</text>
<text x="466.48" y="56.50" font-size="16.5" textLength="19.24" lengthAdjust="spacingAndGlyphs" fill="#2b2b2b" xml:space="preserve">15</text>
<text x="486.18" y="56.50" font-size="16.5" textLength="16.83" lengthAdjust="spacingAndGlyphs" fill="#2b2b2b" xml:space="preserve">&#8722;</text>
<text x="502.61" y="56.50" font-size="16.5" textLength="19.06" lengthAdjust="spacingAndGlyphs" fill="#2b2b2b" xml:space="preserve">40</text>
<text x="532.48" y="56.50" font-size="16.5" textLength="28.59" lengthAdjust="spacingAndGlyphs" fill="#2b2b2b" xml:space="preserve">keV</text>
<text x="375.83" y="73.80" font-size="16.5" textLength="75.23" lengthAdjust="spacingAndGlyphs" fill="#2b2b2b" xml:space="preserve">12:50:30</text>
<text x="452.58" y="73.80" font-size="16.5" textLength="16.83" lengthAdjust="spacingAndGlyphs" fill="#2b2b2b" xml:space="preserve">&#8722;</text>
<text x="470.34" y="73.80" font-size="16.5" textLength="74.40" lengthAdjust="spacingAndGlyphs" fill="#2b2b2b" xml:space="preserve">12:52:30</text>
<text x="554.87" y="73.80" font-size="16.5" textLength="19.46" lengthAdjust="spacingAndGlyphs" fill="#2b2b2b" xml:space="preserve">UT</text>
<text x="502.68" y="213.60" font-size="16.5" textLength="77.70" lengthAdjust="spacingAndGlyphs" fill="#2b2b2b" xml:space="preserve">12:51:20</text>
<path d="M482.5,196.5L497.5,206.5" stroke="#333" stroke-width="1.1"/>
<rect x="199.3" y="293" width="51.2" height="211.6" fill="#dedede"/>
<rect x="366.3" y="392" width="123.1" height="112.6" fill="#dedede"/>
<rect x="111.7" y="288.0" width="428.8" height="222.4" fill="none" stroke="#3c3c3c" stroke-width="1.35"/>
<path d="M163.00,288.0v2.5M163.00,510.4v-2.5M199.32,288.0v2.5M199.32,510.4v-2.5M227.49,288.0v2.5M227.49,510.4v-2.5M250.51,288.0v2.5M250.51,510.4v-2.5M269.97,288.0v2.5M269.97,510.4v-2.5M286.83,288.0v2.5M286.83,510.4v-2.5M301.70,288.0v2.5M301.70,510.4v-2.5M315.00,288.0v8.5M315.00,510.4v-8.5M402.51,288.0v2.5M402.51,510.4v-2.5M453.70,288.0v2.5M453.70,510.4v-2.5M490.02,288.0v2.5M490.02,510.4v-2.5M518.19,288.0v2.5M518.19,510.4v-2.5M111.7,317.00h8.5M540.5,317.00h-8.5M111.7,354.50h8.5M540.5,354.50h-8.5M111.7,392.00h8.5M540.5,392.00h-8.5M111.7,429.50h8.5M540.5,429.50h-8.5M111.7,467.00h8.5M540.5,467.00h-8.5M111.7,504.50h8.5M540.5,504.50h-8.5" stroke="#3c3c3c" stroke-width="1.2" fill="none"/>
<text x="62.42" y="323.80" font-size="16.5" textLength="43.13" lengthAdjust="spacingAndGlyphs" fill="#2b2b2b" xml:space="preserve">1000</text>
<text x="73.33" y="361.30" font-size="16.5" textLength="32.23" lengthAdjust="spacingAndGlyphs" fill="#2b2b2b" xml:space="preserve">100</text>
<text x="84.78" y="398.80" font-size="16.5" textLength="20.75" lengthAdjust="spacingAndGlyphs" fill="#2b2b2b" xml:space="preserve">10</text>
<text x="79.26" y="436.30" font-size="16.5" textLength="26.28" lengthAdjust="spacingAndGlyphs" fill="#2b2b2b" xml:space="preserve">1.0</text>
<text x="77.99" y="473.80" font-size="16.5" textLength="25.41" lengthAdjust="spacingAndGlyphs" fill="#2b2b2b" xml:space="preserve">0.1</text>
<text x="67.17" y="511.30" font-size="16.5" textLength="36.24" lengthAdjust="spacingAndGlyphs" fill="#2b2b2b" xml:space="preserve">0.01</text>
<text x="219.59" y="529.20" font-size="16.5" textLength="11.26" lengthAdjust="spacingAndGlyphs" fill="#2b2b2b" xml:space="preserve">5</text>
<text x="304.70" y="529.20" font-size="16.5" textLength="18.96" lengthAdjust="spacingAndGlyphs" fill="#2b2b2b" xml:space="preserve">10</text>
<text x="386.28" y="529.20" font-size="16.5" textLength="22.51" lengthAdjust="spacingAndGlyphs" fill="#2b2b2b" xml:space="preserve">20</text>
<text x="435.97" y="529.20" font-size="16.5" textLength="21.38" lengthAdjust="spacingAndGlyphs" fill="#2b2b2b" xml:space="preserve">30</text>
<text x="475.96" y="529.20" font-size="16.5" textLength="21.50" lengthAdjust="spacingAndGlyphs" fill="#2b2b2b" xml:space="preserve">40</text>
<text x="234.43" y="551.00" font-size="16.5" textLength="60.82" lengthAdjust="spacingAndGlyphs" fill="#2b2b2b" xml:space="preserve">Photon</text>
<text x="304.70" y="551.00" font-size="16.5" textLength="57.83" lengthAdjust="spacingAndGlyphs" fill="#2b2b2b" xml:space="preserve">Energy</text>
<text x="371.31" y="551.00" font-size="16.5" textLength="45.88" lengthAdjust="spacingAndGlyphs" fill="#2b2b2b" xml:space="preserve">(keV)</text>
<g transform="translate(46.60,508.50) rotate(-90)">
<text x="-1.45" y="0" font-size="16.5" textLength="33.44" lengthAdjust="spacingAndGlyphs" fill="#2b2b2b" xml:space="preserve">Flux</text>
</g>
<g transform="translate(46.60,465.30) rotate(-90)">
<text x="-1.18" y="0" font-size="16.5" textLength="29.51" lengthAdjust="spacingAndGlyphs" fill="#2b2b2b" xml:space="preserve">(Ph</text>
</g>
<g transform="translate(46.60,426.40) rotate(-90)">
<text x="-0.56" y="0" font-size="16.5" textLength="9.98" lengthAdjust="spacingAndGlyphs" fill="#2b2b2b" xml:space="preserve">s</text>
</g>
<g transform="translate(37.80,416.20) rotate(-90)">
<text x="-0.54" y="0" font-size="10.8" textLength="12.58" lengthAdjust="spacingAndGlyphs" fill="#2b2b2b" xml:space="preserve">&#8722;1</text>
</g>
<g transform="translate(46.60,392.50) rotate(-90)">
<text x="-0.86" y="0" font-size="16.5" textLength="27.00" lengthAdjust="spacingAndGlyphs" fill="#2b2b2b" xml:space="preserve">cm</text>
</g>
<g transform="translate(37.80,364.60) rotate(-90)">
<text x="-0.59" y="0" font-size="10.8" textLength="13.59" lengthAdjust="spacingAndGlyphs" fill="#2b2b2b" xml:space="preserve">&#8722;2</text>
</g>
<g transform="translate(46.60,341.90) rotate(-90)">
<text x="-1.16" y="0" font-size="16.5" textLength="29.63" lengthAdjust="spacingAndGlyphs" fill="#2b2b2b" xml:space="preserve">keV</text>
</g>
<g transform="translate(37.80,311.90) rotate(-90)">
<text x="-0.61" y="0" font-size="10.8" textLength="14.12" lengthAdjust="spacingAndGlyphs" fill="#2b2b2b" xml:space="preserve">&#8722;1</text>
</g>
<g transform="translate(46.60,297.80) rotate(-90)">
<text x="-0.15" y="0" font-size="16.5" textLength="8.29" lengthAdjust="spacingAndGlyphs" fill="#2b2b2b" xml:space="preserve">)</text>
</g>
<path d="M200.30,306.30L227.00,330.00L253.40,351.60L257.00,355.11L260.00,357.93L263.00,360.81L266.00,363.75L269.00,366.76L272.00,369.83L275.00,372.97L278.00,376.17L281.00,379.45L284.00,382.80L287.00,386.22L290.00,389.72L293.00,393.29L296.00,396.94L299.00,400.68L302.00,404.49L305.00,408.40L308.00,412.38L311.00,416.46L314.00,420.63L317.00,424.89L320.00,429.25L323.00,433.70L326.00,438.26L329.00,442.92L332.00,447.68L335.00,452.55L338.00,457.53L341.00,462.62L344.00,467.83L347.00,473.16L350.00,478.61L353.00,484.18L356.00,489.88L359.00,495.71L362.00,501.67L365.00,507.77L366.08,510.00" fill="none" stroke="#a6a6a6" stroke-width="1.2"/>
<path d="M200.00,368.25L203.00,368.90L206.00,369.57L209.00,370.25L212.00,370.95L215.00,371.68L218.00,372.42L221.00,373.17L224.00,373.95L227.00,374.75L230.00,375.56L233.00,376.39L236.00,377.24L239.00,378.11L242.00,379.00L245.00,379.90L248.00,380.83L251.00,381.77L254.00,382.73L257.00,383.71L260.00,384.70L263.00,385.72L266.00,386.75L269.00,387.80L272.00,388.87L275.00,389.96L278.00,391.07L281.00,392.20L284.00,393.34L287.00,394.50L290.00,395.68L293.00,396.88L296.00,398.10L299.00,399.33L302.00,400.59L305.00,401.86L308.00,403.15L311.00,404.46L314.00,405.79L317.00,407.13L320.00,408.50L323.00,409.88L326.00,411.28L329.00,412.70L332.00,414.13L335.00,415.59L338.00,417.06L341.00,418.56" fill="none" stroke="#222" stroke-width="1.4" stroke-dasharray="2.3 4.4"/>
<path d="M200.3,306.3L227.0,330.0L253.7,351.3L258.0,354.2L260.5,349.0L264.2,338.6L267.5,343.0L270.0,348.7L273.0,358.0L274.9,366.0L278.0,369.6L282.0,373.1L286.0,376.5L290.0,379.8L294.0,383.0L298.0,386.2L302.0,389.3L306.0,392.3L310.0,395.3L314.0,398.2L318.0,401.1L322.0,403.8L326.0,406.6L330.0,409.2L334.0,411.9L338.0,414.4L342.0,416.9L346.0,419.4L350.0,421.8L354.0,424.2L358.0,426.5L362.0,428.8L366.0,431.0L370.0,433.2L374.0,435.4L378.0,437.5L382.0,439.6L386.0,441.7L390.0,443.8L394.0,445.8L398.0,447.8L402.0,449.8L406.0,451.7L410.0,453.7L414.0,455.6L418.0,457.5L422.0,459.4L426.0,461.3L430.0,463.2L434.0,465.1L438.0,467.0L442.0,468.9L446.0,470.8L450.0,472.6L454.0,474.5L458.0,476.4L462.0,478.3L466.0,480.2L470.0,482.2L474.0,484.1L478.0,486.1L482.0,488.0L486.0,490.0L490.0,492.1L494.0,494.1L498.0,496.2L502.0,498.3L506.0,500.4L510.0,502.6L514.0,504.8L517.0,506.4" fill="none" stroke="#0a0a0a" stroke-width="1.55" stroke-linejoin="round"/>
<path d="M200.3,303.0L205.7,303.0L205.7,314.3L215.3,314.3L215.3,322.0L224.0,322.0L224.0,329.3L232.7,329.3L232.7,336.7L240.7,336.7L240.7,343.3L247.7,343.3L247.7,348.7L254.6,348.7L254.6,354.3L261.3,354.3L261.3,338.3L267.5,338.3L267.5,348.0L273.7,348.0L273.7,368.7L279.0,368.7L279.0,373.3L283.3,373.3L283.3,378.1L290.0,378.1L290.0,382.5L295.0,382.5L295.0,385.2L299.8,385.2L299.8,390.3L304.5,390.3L304.5,392.4L309.0,392.4L309.0,396.7L313.3,396.7L313.3,398.3L317.5,398.3L317.5,403.3L321.6,403.3L321.6,404.0L325.5,404.0L325.5,407.1L329.3,407.1L329.3,408.9L333.0,408.9L333.0,411.3L336.6,411.3L336.6,415.4L340.1,415.4L340.1,416.0L343.5,416.0L343.5,419.7L346.8,419.7L346.8,420.1L350.1,420.1L350.1,423.5L353.2,423.5L353.2,423.6L356.3,423.6L356.3,427.4L359.3,427.4L359.3,428.5L362.2,428.5L362.2,429.0L365.1,429.0L365.1,432.0L367.9,432.0L367.9,433.4L374.3,433.4L374.3,437.3L382.0,437.3L382.0,441.0L389.2,441.0L389.2,445.7L396.0,445.7L396.0,447.6L402.5,447.6L402.5,452.2L408.7,452.2L408.7,455.2L414.5,455.2L414.5,458.4L420.2,458.4L420.2,459.1L425.5,459.1L425.5,461.7L430.7,461.7L430.7,461.0L435.6,461.0L435.6,465.8L440.4,465.8L440.4,465.5L445.0,465.5L445.0,468.8L449.4,468.8L449.4,473.7L453.7,473.7L453.7,476.3L457.8,476.3L457.8,473.7L461.8,473.7L461.8,479.7L465.7,479.7L465.7,476.7L469.5,476.7L469.5,481.7L473.2,481.7L473.2,479.4L476.7,479.4L476.7,477.7L480.2,477.7L480.2,483.7L483.5,483.7L483.5,480.0L486.8,480.0L486.8,485.0L490.0,485.0L490.0,491.7L493.1,491.7L493.1,484.3L496.2,484.3L496.2,485.3L499.1,485.3L499.1,498.3L502.1,498.3L502.1,492.3L504.9,492.3L504.9,489.7L507.7,489.7L507.7,484.3L510.4,484.3L510.4,490.3L513.0,490.3" fill="none" stroke="#111" stroke-width="1.0" stroke-linejoin="miter"/>
<path d="M371.1,432.8V434.0M378.2,436.5V438.1M385.6,440.0V442.0M392.6,444.5V446.8M399.3,446.3V448.9M405.6,450.7V453.7M411.6,453.5V456.9M417.3,456.5V460.2M422.8,457.1V461.2M428.1,459.5V463.9M433.2,459.2V462.8M438.0,463.5V470.5M442.7,463.7V467.3M447.2,467.0V470.6M451.6,471.9V475.5M455.8,473.7V479.0M459.8,471.9V475.5M463.8,477.7V484.3M467.6,474.9V478.5M471.3,479.0V485.0M474.9,477.6V481.2M478.4,475.9V479.5M481.9,481.0V486.3M485.2,478.2V481.8M488.4,483.2V486.8M491.6,485.0V498.3M494.7,482.5V486.1M497.7,483.5V487.1M500.6,491.7V510.3M503.5,490.5V494.1M506.3,487.9V491.5M509.0,482.5V486.1M511.7,486.3V494.3" stroke="#111" stroke-width="1.0" fill="none"/>
<text x="124.22" y="312.80" font-size="18.5" textLength="24.06" lengthAdjust="spacingAndGlyphs" fill="#111" xml:space="preserve">(c)</text>
<text x="337.05" y="322.90" font-size="16.5" textLength="71.47" lengthAdjust="spacingAndGlyphs" fill="#2b2b2b" xml:space="preserve">Detector</text>
<text x="420.12" y="322.90" font-size="16.5" textLength="6.45" lengthAdjust="spacingAndGlyphs" fill="#2b2b2b" xml:space="preserve">1</text>
<text x="337.95" y="340.10" font-size="14.5" textLength="6.81" lengthAdjust="spacingAndGlyphs" fill="#2b2b2b" xml:space="preserve">T</text>
<text x="359.48" y="340.10" font-size="14.5" textLength="9.86" lengthAdjust="spacingAndGlyphs" fill="#2b2b2b" xml:space="preserve">=</text>
<text x="379.17" y="340.10" font-size="14.5" textLength="15.01" lengthAdjust="spacingAndGlyphs" fill="#2b2b2b" xml:space="preserve">12</text>
<text x="401.74" y="340.10" font-size="14.5" textLength="19.41" lengthAdjust="spacingAndGlyphs" fill="#2b2b2b" xml:space="preserve">MK</text>
<text x="337.58" y="355.30" font-size="14.5" textLength="18.64" lengthAdjust="spacingAndGlyphs" fill="#2b2b2b" xml:space="preserve">EM</text>
<text x="363.68" y="355.30" font-size="14.5" textLength="9.86" lengthAdjust="spacingAndGlyphs" fill="#2b2b2b" xml:space="preserve">=</text>
<text x="382.96" y="355.30" font-size="14.5" textLength="33.57" lengthAdjust="spacingAndGlyphs" fill="#2b2b2b" xml:space="preserve">7E46</text>
<text x="425.05" y="355.30" font-size="14.5" textLength="20.25" lengthAdjust="spacingAndGlyphs" fill="#2b2b2b" xml:space="preserve">cm</text>
<text x="446.57" y="349.50" font-size="9.2" textLength="12.20" lengthAdjust="spacingAndGlyphs" fill="#2b2b2b" xml:space="preserve">&#8722;3</text>
<text x="337.42" y="370.00" font-size="14.5" textLength="39.03" lengthAdjust="spacingAndGlyphs" fill="#2b2b2b" xml:space="preserve">Model</text>
<path d="M402.3,367H453" stroke="#222" stroke-width="1.3"/>
<text x="173.97" y="461.30" font-size="13.4" textLength="9.05" lengthAdjust="spacingAndGlyphs" fill="#2b2b2b" xml:space="preserve">N</text>
<text x="183.54" y="468.00" font-size="14.5" textLength="32.62" lengthAdjust="spacingAndGlyphs" fill="#2b2b2b" xml:space="preserve">total</text>
<text x="222.93" y="461.30" font-size="14.5" textLength="10.46" lengthAdjust="spacingAndGlyphs" fill="#2b2b2b" xml:space="preserve">=</text>
<text x="240.68" y="461.30" font-size="14.5" textLength="49.98" lengthAdjust="spacingAndGlyphs" fill="#2b2b2b" xml:space="preserve">0.7E35</text>
<text x="298.40" y="461.30" font-size="14.5" textLength="7.11" lengthAdjust="spacingAndGlyphs" fill="#2b2b2b" xml:space="preserve">s</text>
<text x="306.62" y="455.50" font-size="9.2" textLength="8.75" lengthAdjust="spacingAndGlyphs" fill="#2b2b2b" xml:space="preserve">&#8722;1</text>
<text x="173.82" y="483.00" font-size="14.5" textLength="33.68" lengthAdjust="spacingAndGlyphs" fill="#2b2b2b" xml:space="preserve">Delta</text>
<text x="214.60" y="483.00" font-size="14.5" textLength="10.82" lengthAdjust="spacingAndGlyphs" fill="#2b2b2b" xml:space="preserve">=</text>
<text x="234.12" y="483.00" font-size="14.5" textLength="32.10" lengthAdjust="spacingAndGlyphs" fill="#2b2b2b" xml:space="preserve">4.68</text>
<text x="174.05" y="501.30" font-size="14.5" textLength="7.75" lengthAdjust="spacingAndGlyphs" fill="#2b2b2b" xml:space="preserve">E</text>
<text x="183.19" y="508.70" font-size="14.5" textLength="7.19" lengthAdjust="spacingAndGlyphs" fill="#2b2b2b" xml:space="preserve">c</text>
<text x="197.93" y="501.30" font-size="14.5" textLength="10.46" lengthAdjust="spacingAndGlyphs" fill="#2b2b2b" xml:space="preserve">=</text>
<text x="217.70" y="501.30" font-size="14.5" textLength="28.00" lengthAdjust="spacingAndGlyphs" fill="#2b2b2b" xml:space="preserve">10.1</text>
<text x="255.41" y="501.30" font-size="14.5" textLength="22.64" lengthAdjust="spacingAndGlyphs" fill="#2b2b2b" xml:space="preserve">keV</text>
</svg></body></html>
